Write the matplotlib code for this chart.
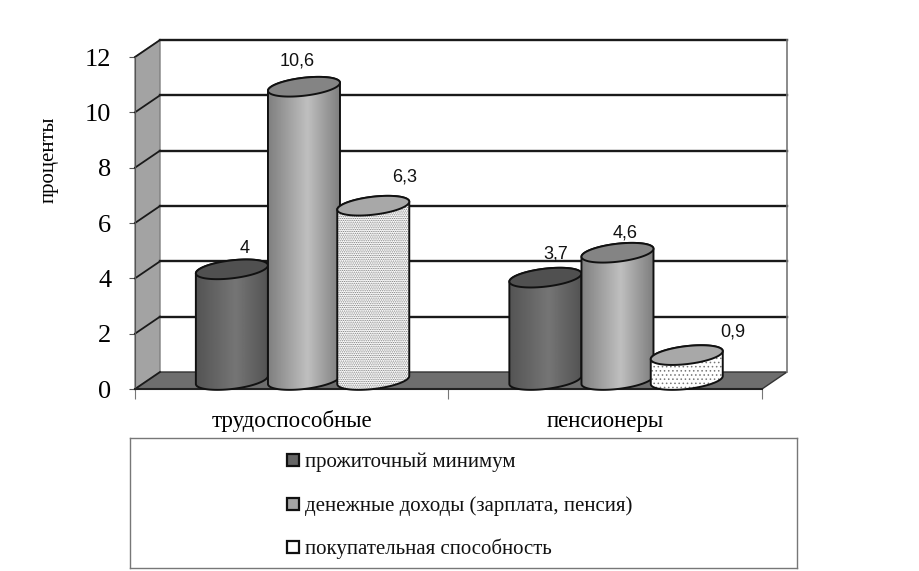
# Grouped 3D-style cylinder chart
import matplotlib.pyplot as plt
import numpy as np
from matplotlib.patches import Polygon, PathPatch
from matplotlib.path import Path

plt.rcParams['font.family'] = ['Liberation Serif', 'DejaVu Serif']
plt.rcParams['hatch.linewidth'] = 0.6

# Data
categories = ['трудоспособные', 'пенсионеры']
series_names = ['прожиточный минимум', 'денежные доходы (зарплата, пенсия)', 'покупательная способность']
minimum = [4, 3.7]
income = [10.6, 4.6]
purchasing = [6.3, 0.9]
value_labels = [['4', '3,7'], ['10,6', '4,6'], ['6,3', '0,9']]
y_ticks = [0, 2, 4, 6, 8, 10, 12]

W, H = 920, 571
fig = plt.figure(figsize=(W / 100, H / 100), dpi=100)

# Main axes = front plane of the 3D box
ax = fig.add_axes([135 / W, 1 - 389 / H, 627 / W, 332 / H])
ax.set_xlim(0, 2)
ax.set_ylim(0, 12)

# pixel sizes turned into data units
px_x = 2 / 627
px_y = 12 / 332
depth_x = 25 * px_x
depth_y = 17 * px_y

# Walls and floor
ax.add_patch(Polygon([(0, 0), (depth_x, depth_y), (2 + depth_x, depth_y), (2, 0)],
                     closed=True, fc='#6e6e6e', ec='#333333', lw=1, clip_on=False, zorder=1))
ax.add_patch(Polygon([(0, 0), (depth_x, depth_y), (depth_x, 12 + depth_y), (0, 12)],
                     closed=True, fc='#a3a3a3', ec='#808080', lw=1, clip_on=False, zorder=1))
for t in y_ticks:
    if t > 0:
        ax.plot([depth_x, 2 + depth_x], [t + depth_y, t + depth_y], color='#1a1a1a', lw=1.7,
                clip_on=False, zorder=1)
    ax.plot([0, depth_x], [t, t + depth_y], color='#1a1a1a', lw=1.3, clip_on=False, zorder=2)
ax.plot([2 + depth_x, 2 + depth_x], [depth_y, 12 + depth_y], color='#777777', lw=1.2, clip_on=False, zorder=1)


def cylinder(cx, value, colors, top_color, hatch=None, hatch_color='#777777', z=3):
    a = 36 * px_x
    b = 9 * px_y
    s = 4 * px_y
    base = 9 * px_y
    top = base + value

    t_low = np.linspace(np.pi, 2 * np.pi, 60)
    t_up = np.linspace(0, np.pi, 60)
    low = np.column_stack([cx + a * np.cos(t_low), base + b * np.sin(t_low) + s * np.cos(t_low)])
    up = np.column_stack([cx + a * np.cos(t_up), top + b * np.sin(t_up) + s * np.cos(t_up)])
    t_all = np.linspace(0, 2 * np.pi, 120)
    ell = np.column_stack([cx + a * np.cos(t_all), top + b * np.sin(t_all) + s * np.cos(t_all)])

    body = np.vstack([low, up])
    body_path = Path(np.vstack([body, body[0]]), closed=True)

    if hatch is None:
        # shaded side of the cylinder
        grad = np.interp(np.linspace(0, 1, 100), [0, 0.55, 1], colors)
        im = ax.imshow(grad[np.newaxis, :], cmap='gray', vmin=0, vmax=1, aspect='auto',
                       extent=[cx - a, cx + a, 0, top + 1], zorder=z)
        patch = PathPatch(body_path, fc='none', ec='#111111', lw=1.4, clip_on=False, zorder=z + 0.1)
        ax.add_patch(patch)
        im.set_clip_path(patch)
    else:
        ax.add_patch(PathPatch(body_path, fc='white', ec=hatch_color, hatch=hatch, lw=0,
                               clip_on=False, zorder=z))
        ax.add_patch(PathPatch(body_path, fc='none', ec='#111111', lw=1.4, clip_on=False, zorder=z + 0.1))
    ax.add_patch(Polygon(ell, closed=True, fc=top_color, ec='#111111', lw=1.4, clip_on=False, zorder=z + 0.2))


offsets = [-0.191, 0.039, 0.26]
# label shift from the cylinder centre / top, in pixels
label_shift = [[(13, 21), (10, 24)], [(-7, 26), (8, 20)], [(31, 29), (46, 23)]]
styles = [
    dict(colors=[0.33, 0.46, 0.33], top_color='#505050'),
    dict(colors=[0.5, 0.75, 0.5], top_color='#848484'),
    dict(colors=[0.9, 0.9, 0.9], top_color='#a8a8a8', hatch='.........'),
]
all_series = [minimum, income, purchasing]

for c in range(len(categories)):
    for i, vals in enumerate(all_series):
        cx = c + 0.5 + offsets[i]
        st = dict(styles[i])
        if c == 1 and i == 2:
            st['hatch'] = '....'
        cylinder(cx, vals[c], z=3 + i + c * 3, **st)
        top_y = 9 * px_y + vals[c]
        sx, sy = label_shift[i][c]
        ax.text(cx + sx * px_x, top_y + sy * px_y, value_labels[i][c], family=['Liberation Sans'],
                fontsize=13, ha='center', va='center', color='#111111', zorder=20)

ax.set_xlim(0, 2)
ax.set_ylim(0, 12)

# Axes look
for side in ['top', 'right']:
    ax.spines[side].set_visible(False)
ax.spines['left'].set_color('#555555')
ax.spines['bottom'].set_color('#222222')
ax.spines['bottom'].set_linewidth(1.5)
ax.patch.set_visible(False)
ax.set_yticks(y_ticks)
ax.set_yticklabels([str(t) for t in y_ticks], fontsize=19)
ax.tick_params(axis='y', length=4, color='#555555', pad=13)
ax.set_xticks([0, 1, 2])
ax.set_xticklabels([])
ax.tick_params(axis='x', length=7, color='#777777')
ax.set_xticks([0.5, 1.5], minor=True)
ax.set_xticklabels(categories, minor=True, fontsize=16.5, va='baseline')
ax.tick_params(axis='x', which='minor', length=0, pad=27)
ax.set_ylabel('проценты', fontsize=15)
ax.yaxis.set_label_coords((59 - 135) / 627, (389 - 160) / 332)

# Legend box
lax = fig.add_axes([130 / W, 1 - 568 / H, 667 / W, 130 / H])
lax.set_xlim(130, 797)
lax.set_ylim(568, 438)
lax.set_xticks([])
lax.set_yticks([])
for sp in lax.spines.values():
    sp.set_color('#777777')
    sp.set_linewidth(1)
marker_colors = ['#666666', '#a6a6a6', '#ffffff']
marker_y = [460, 504, 547]
for name, col, my in zip(series_names, marker_colors, marker_y):
    lax.plot([293], [my], marker='s', ms=8, mfc=col, mec='#111111', mew=1.6, ls='none')
    lax.text(305, my + 2, name, fontsize=15, va='center', ha='left', color='#111111')

fig.savefig('out.png', dpi=100)
